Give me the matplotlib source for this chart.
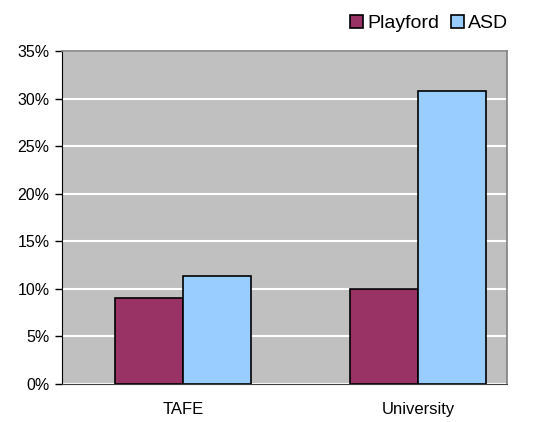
import matplotlib
matplotlib.use("Agg")
import matplotlib.pyplot as plt
import numpy as np
from matplotlib.ticker import FuncFormatter

plt.rcParams['font.family'] = ['Liberation Sans', 'DejaVu Sans']

categories = ["TAFE", "University"]
playford = [9.0, 10.0]
asd = [11.3, 30.8]
series_names = ["Playford", "ASD"]
yticks = [0, 5, 10, 15, 20, 25, 30, 35]

fig = plt.figure(figsize=(5.53, 4.22), dpi=100)
ax = fig.add_axes([62/553, 38/422, 445/553, 333/422])
ax.set_facecolor("#C0C0C0")

x = np.arange(len(categories))
w = 0.289
ax.bar(x - w/2, playford, w, color="#993366", edgecolor="black", linewidth=1.2,
       label=series_names[0], zorder=3)
ax.bar(x + w/2, asd, w, color="#99CCFF", edgecolor="black", linewidth=1.2,
       label=series_names[1], zorder=3)

ax.set_xlim(-0.515, 1.379)
ax.set_ylim(0, 35)
ax.set_yticks(yticks)
ax.yaxis.set_major_formatter(FuncFormatter(lambda v, p: f"{int(v)}%"))
ax.set_xticks(x)
ax.set_xticklabels(categories)
ax.tick_params(axis='x', length=0, pad=13, labelsize=12)
ax.tick_params(axis='y', length=5, width=1, pad=4, labelsize=11.5, direction='out')
ax.yaxis.grid(True, color="white", linewidth=1.5, zorder=1)
ax.set_axisbelow(True)

for s in ["top", "right"]:
    ax.spines[s].set_color("#808080")
    ax.spines[s].set_linewidth(1.2)
ax.spines["left"].set_color("black")
ax.spines["bottom"].set_color("#404040")

leg = fig.legend(loc="upper right", bbox_to_anchor=(522/553, 1 - 1/422), ncol=2,
                 frameon=False, fontsize=14, handlelength=0.7, handleheight=0.7,
                 handletextpad=0.2, columnspacing=0.6, borderpad=0.2)

fig.savefig("out.png", dpi=100)
